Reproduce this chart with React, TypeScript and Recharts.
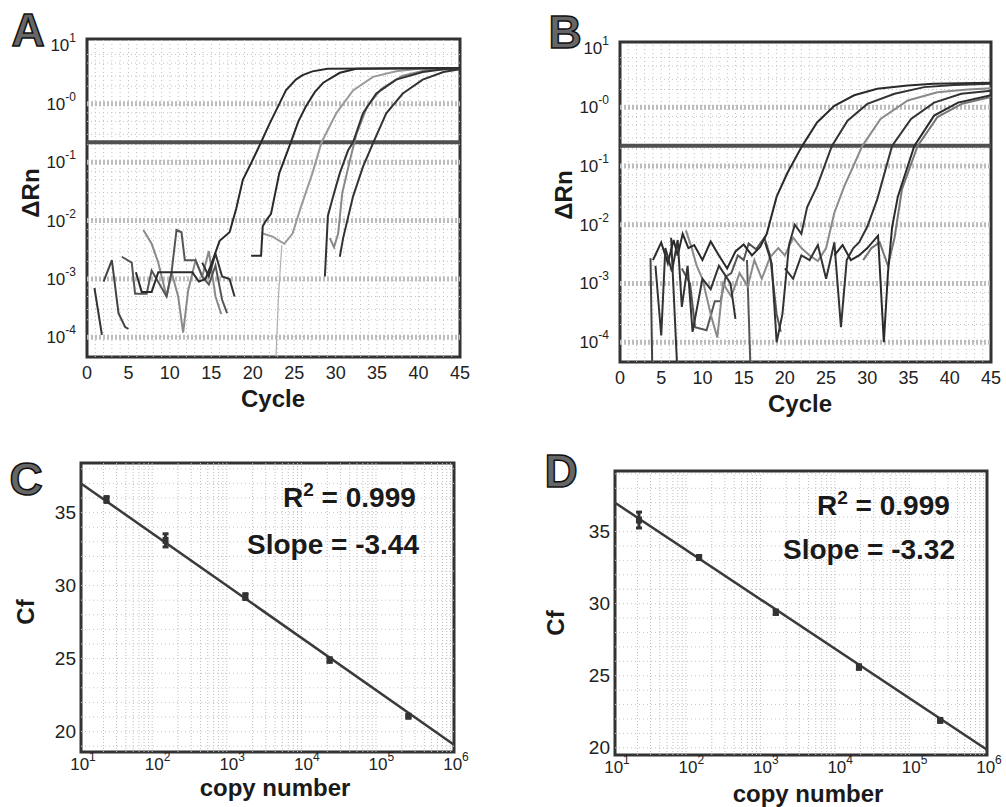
import React from 'react';
import {
  LineChart, Line, XAxis, YAxis, ReferenceLine, ReferenceArea,
  ComposedChart, Scatter, ErrorBar,
} from 'recharts';

type Pt = [number, number | null];

const FONT = '"Liberation Sans", Arial, Helvetica, sans-serif';
const BOTTOM = 4.7e-5; // runs that fall off the bottom of the log axis

// ---- panel A : amplification plot, [cycle, dRn] ----
const A_NOISE1: Pt[] = [[0.9, 7e-4], [1.8, 1.1e-4]];
const A_NOISE2: Pt[] = [[2, 9e-4], [3, 2.1e-3], [3.8, 2.6e-4], [4.6, 1.5e-4], [5, 1.4e-4]];
const A_NOISE3: Pt[] = [[4.2, 2.4e-3], [5.4, 1.9e-3], [5.8, 5.6e-4], [7.2, 5.6e-4], [7.8, 1.4e-3], [9.6, 5e-4], [10.2, 1.3e-3], [10.8, 6.9e-3], [11.4, 6.3e-3], [11.8, 2.1e-3], [13.1, 2.1e-3], [13.9, 1.1e-3], [14.7, 8e-4], [15.5, 1.7e-3], [16.3, 4.4e-4], [16.9, 2.6e-4]];
const A_NOISE4: Pt[] = [[6.8, 6.9e-3], [7.8, 4e-3], [8.6, 1.9e-3], [9.6, 5e-4], [10.2, 1.3e-3], [11, 5e-4], [11.6, 1.2e-4], [12.2, 6.3e-4], [13.1, 2.1e-3], [13.9, 1.1e-3], [14.7, 3e-3], [15.5, 5e-4], [16.2, 2.5e-4]];
const A_NOISE5: Pt[] = [[13.9, 1.9e-3], [14.7, 1.1e-3], [15.5, 2.7e-3], [16.3, 1.1e-3], [17.2, 1e-3], [17.8, 5e-4]];
const A_RUN1: Pt[] = [[5.9, 1.3e-3], [6.6, 6e-4], [7.8, 6e-4], [8.6, 1.3e-3], [12.7, 1.3e-3], [13.5, 9e-4], [14.3, 1e-3], [15, 1.8e-3], [16, 4.5e-3], [17.2, 6.3e-3], [18, 1.6e-2], [18.8, 5e-2], [20, 0.11], [21, 0.22], [22, 0.45], [23.2, 1.0], [24, 1.7], [25.2, 2.6], [26, 3.1], [27.2, 3.6], [29, 4.0], [45, 4.1]];
const A_RUN2: Pt[] = [[19.8, 2.5e-3], [21, 2.5e-3], [21.2, 8e-3], [21.6, 1e-2], [22.2, 1.3e-2], [23.2, 6.5e-2], [24.6, 0.22], [25.5, 0.5], [26.4, 0.9], [27.5, 1.6], [28.5, 2.3], [30.5, 3.4], [32.5, 4.0], [45, 4.1]];
const A_RUN3: Pt[] = [[21.2, 6e-3], [22.4, 5.3e-3], [23.8, 4e-3], [24.8, 6e-3], [25.8, 1.7e-2], [27.2, 6.5e-2], [28.3, 0.22], [30.1, 0.7], [32.1, 1.7], [34.5, 2.9], [37.3, 3.6], [40, 4.0], [45, 4.1]];
const A_RUN3_DROP: Pt[] = [[23.5, 3.8e-3], [23.1, 5e-4], [22.8, BOTTOM]];
const A_RUN4: Pt[] = [[28.7, 1.1e-3], [29.06, 1.2e-2], [29.7, 2.6e-2], [30.5, 6.5e-2], [31.5, 0.16], [32.1, 0.22], [33.3, 0.69], [34.9, 1.5], [37.3, 2.6], [40.5, 3.5], [43, 3.9], [45, 4.0]];
const A_RUN4B: Pt[] = [[29.3, 5e-3], [29.8, 3.5e-3], [30.3, 6e-3], [30.8, 3e-2], [31.8, 0.12], [32.5, 0.3], [33.8, 0.9], [35.5, 1.8], [38, 3.0], [41, 3.8], [45, 4.0]];
const A_RUN5: Pt[] = [[30.5, 2.4e-3], [30.9, 5e-3], [32.1, 2.6e-2], [33.3, 8.4e-2], [34.5, 0.21], [36.1, 0.69], [38.1, 1.5], [40.5, 2.6], [43, 3.5], [45, 3.9]];

// ---- panel B : amplification plot, [cycle, dRn] ----
const B_SPIKE1: Pt[] = [[3.7, 2.7e-3], [3.9, BOTTOM]];
const B_SPIKE2: Pt[] = [[6.2, 6e-3], [6.9, BOTTOM]];
const B_SPIKE3: Pt[] = [[15.4, 2.5e-3], [15.8, BOTTOM]];
const B_RUN1: Pt[] = [[4, 2.5e-3], [5, 5e-3], [5.8, 2.2e-3], [6.5, 5.5e-3], [7, 3e-3], [7.6, 7e-3], [8.3, 4e-3], [9, 4.5e-3], [10, 2.5e-3], [11, 5.2e-3], [12, 3e-3], [13, 1.8e-3], [14, 3.5e-3], [15, 4.6e-3], [16, 3e-3], [17, 4.2e-3], [17.8, 7e-3], [19, 3e-2], [20.3, 7.6e-2], [22.1, 0.22], [23.9, 0.55], [26, 1.06], [28.4, 1.6], [31.2, 2.06], [34.9, 2.35], [38, 2.5], [45, 2.6]];
const B_RUN2: Pt[] = [[4.3, 2e-3], [5, 1.3e-4], [5.5, 4e-3], [6.3, 1.6e-3], [7, 5.5e-3], [7.5, 4e-4], [8.2, 2e-3], [8.8, 1.5e-4], [10, 1.2e-3], [11, 8e-4], [12, 2e-3], [13.4, 1e-3], [14, 2.5e-4], [15, null], [17.6, 5e-3], [18.4, 2.2e-3], [19, 1e-4], [19.7, 3e-4], [20.5, 4.5e-3], [21.2, 1e-2], [22, 7e-3], [22.7, 2e-2], [23.9, 4.5e-2], [25.7, 0.22], [27.6, 0.59], [30, 1.14], [33.3, 1.7], [36.9, 2.2], [40.5, 2.4], [45, 2.5]];
const B_RUN3: Pt[] = [[8, 8e-3], [8.7, 4e-3], [9.3, 2e-3], [10, 1.2e-3], [11, 3e-4], [11.8, 1.2e-4], [12.5, 1e-3], [13.5, 6e-4], [14.5, 1.5e-3], [15.5, 9e-4], [16.3, 2.5e-3], [17.2, 1.2e-3], [18.2, 2.8e-3], [19.2, 4e-3], [20, 3e-3], [21, 6e-3], [22, 4e-3], [23, 3e-3], [24, 2.4e-3], [25, 4e-3], [26, 1.6e-2], [27.2, 4.5e-2], [29.4, 0.22], [31.6, 0.63], [34.9, 1.3], [38.5, 1.8], [42.2, 2.0], [45, 2.1]];
const B_RUN4: Pt[] = [[20, 1.8e-3], [21, 1.2e-3], [22, 3e-3], [23, 2.5e-3], [24, 4.5e-3], [25, 1.2e-3], [26, 5e-3], [26.8, 1.8e-4], [27.5, 2.5e-3], [28.3, 4e-3], [29, 5e-3], [30, 9.3e-3], [31.2, 2.7e-2], [33, 0.22], [35.3, 0.63], [38.1, 1.2], [41.4, 1.7], [45, 1.9]];
const B_RUN5: Pt[] = [[26, 3e-3], [27, 4.5e-3], [28, 2.5e-3], [29, 3e-3], [30, 4e-3], [31.3, 6.5e-3], [32, 1e-4], [32.5, 1.5e-3], [33, 9e-3], [33.7, 3e-2], [35.7, 0.22], [38.1, 0.72], [41, 1.2], [45, 1.6]];
const B_RUN6: Pt[] = [[29.5, 2.5e-3], [30.5, 4e-3], [31.5, 5e-3], [32.5, 2e-3], [33.3, 6e-3], [34.2, 4e-2], [36.1, 0.22], [38.5, 0.68], [41.5, 1.15], [45, 1.5]];
const B_RUN7: Pt[] = [[7.5, 1.8e-3], [8.5, 1e-3], [9.1, 1.8e-4], [10.5, 1.6e-4], [11.5, 5e-4], [12.2, 5e-4], [12.8, 1.3e-3], [13.5, 1.5e-3], [14.3, 3e-3], [15, 2.5e-3], [15.6, 4.8e-3], [16.5, 3.8e-3], [17.5, 6e-3], [18.2, 3e-3], [19, 3e-4], [19.5, 1.5e-4]];

const THRESHOLD = 0.22;

// ---- panels C / D : standard curves ----
const C_COPIES = [22, 136, 1600, 21500, 245000];
const C_CF = [35.9, 33.1, 29.25, 24.9, 21.05];
const C_ERR = [0.2, 0.45, 0.2, 0.15, 0.1];
const C_FIT = [37.0, 19.1]; // Cf at 10 and 10^6

const D_COPIES = [21, 135, 1450, 19000, 235000];
const D_CF = [35.8, 33.2, 29.4, 25.6, 21.9];
const D_ERR = [0.55, 0.1, 0.15, 0.15, 0.1];
const D_FIT = [37.0, 19.86];

// ---- ticks ----
const CYCLE_TICKS = [0, 5, 10, 15, 20, 25, 30, 35, 40, 45];
const DRN_TICKS = [1e-4, 1e-3, 1e-2, 1e-1, 1, 10];
const DRN_EXP = ['-4', '-3', '-2', '-1', '-0', '1'];
const COPY_TICKS = [10, 100, 1000, 10000, 100000, 1000000];
const COPY_EXP = ['1', '2', '3', '4', '5', '6'];
const CF_TICKS = [20, 25, 30, 35];

const DRN_DOMAIN: [number, number] = [4.6e-5, 12.9];

const cycleGrid = Array.from({ length: 44 }, (_, i) => i + 1);
const drnGrid = [1e-4, 1e-3, 1e-2, 1e-1, 1].flatMap((d) => [2, 3, 5, 7].map((m) => m * d));
const copyGrid = [10, 100, 1000, 10000, 100000].flatMap((d) => [2, 3, 4, 5, 6, 7, 8, 9].map((m) => m * d));

const expOf = (v: number, ticks: number[], exps: string[]) => {
  const i = ticks.findIndex((t) => Math.abs(Math.log10(t) - Math.log10(v)) < 1e-6);
  return i >= 0 ? exps[i] : '';
};

const PowYTick = (p: any) => (
  <text x={p.x - 11} y={p.y} textAnchor="end" dominantBaseline="central" fontFamily={FONT} fontSize={17} fill="#222">
    <tspan>10</tspan>
    <tspan fontSize={12} dy={-7}>{expOf(p.payload.value, DRN_TICKS, DRN_EXP)}</tspan>
  </text>
);

const PowXTick = (p: any) => (
  <text x={p.x + 2} y={p.y + 12} textAnchor="middle" dominantBaseline="central" fontFamily={FONT} fontSize={17} fill="#222">
    <tspan>10</tspan>
    <tspan fontSize={12} dy={-7}>{expOf(p.payload.value, COPY_TICKS, COPY_EXP)}</tspan>
  </text>
);

const CycleTick = (p: any) => (
  <text x={p.x} y={p.y + 16} textAnchor="middle" dominantBaseline="central" fontFamily={FONT} fontSize={18} fill="#222">
    {p.payload.value}
  </text>
);

const CfTick = (p: any) => (
  <text x={p.x - 5} y={p.y} textAnchor="end" dominantBaseline="central" fontFamily={FONT} fontSize={19} fill="#222">
    {p.payload.value}
  </text>
);

type Run = { pts: Pt[]; color: string; width?: number };

const A_RUNS: Run[] = [
  { pts: A_NOISE1, color: '#333' },
  { pts: A_NOISE2, color: '#444' },
  { pts: A_NOISE4, color: '#8a8a8a' },
  { pts: A_NOISE3, color: '#555' },
  { pts: A_NOISE5, color: '#333' },
  { pts: A_RUN3, color: '#9a9a9a' },
  { pts: A_RUN3_DROP, color: '#b0b0b0', width: 1.2 },
  { pts: A_RUN4B, color: '#888' },
  { pts: A_RUN1, color: '#2a2a2a' },
  { pts: A_RUN2, color: '#2a2a2a' },
  { pts: A_RUN4, color: '#333' },
  { pts: A_RUN5, color: '#333' },
];

const B_RUNS: Run[] = [
  { pts: B_SPIKE1, color: '#444' },
  { pts: B_SPIKE2, color: '#333' },
  { pts: B_SPIKE3, color: '#555' },
  { pts: B_RUN7, color: '#555' },
  { pts: B_RUN3, color: '#8a8a8a' },
  { pts: B_RUN6, color: '#777' },
  { pts: B_RUN1, color: '#2a2a2a' },
  { pts: B_RUN2, color: '#333' },
  { pts: B_RUN4, color: '#333' },
  { pts: B_RUN5, color: '#2a2a2a' },
];

const toRows = (pts: Pt[]) => pts.map(([c, v]) => ({ c, v }));

const AmpChart = ({ left, top, width, height, margin, runs }: any) => (
  <div style={{ position: 'absolute', left, top }}>
    <LineChart width={width} height={height} margin={margin}>
      <XAxis type="number" dataKey="c" domain={[0, 45]} ticks={CYCLE_TICKS} interval={0} tick={CycleTick}
        axisLine={false} tickLine={false} tickSize={0} tickMargin={0} height={30} allowDataOverflow />
      <YAxis type="number" scale="log" domain={DRN_DOMAIN} ticks={DRN_TICKS} interval={0} tick={PowYTick}
        axisLine={false} tickLine={false} tickSize={0} tickMargin={0} width={60} allowDataOverflow />
      {cycleGrid.map((c) => (
        <ReferenceLine key={'vx' + c} x={c} stroke="#bdbdbd" strokeDasharray="1 3" />
      ))}
      {drnGrid.map((v) => (
        <ReferenceLine key={'hy' + v} y={v} stroke="#c6c6c6" strokeDasharray="1 3" />
      ))}
      {DRN_TICKS.slice(0, 5).map((v) => (
        <ReferenceLine key={'dy' + v} y={v} stroke="#bdbdbd" strokeWidth={5} strokeDasharray="2 2" />
      ))}
      <ReferenceLine y={THRESHOLD} stroke="#505050" strokeWidth={4} />
      {runs.map((r: Run, i: number) => (
        <Line key={i} data={toRows(r.pts)} dataKey="v" type="linear" stroke={r.color}
          strokeWidth={r.width ?? 2} dot={false} isAnimationActive={false} />
      ))}
      <ReferenceArea x1={0} x2={45} y1={DRN_DOMAIN[0]} y2={DRN_DOMAIN[1]} fill="none" stroke="#333" strokeWidth={3} />
    </LineChart>
  </div>
);

const StdChart = ({ left, top, width, height, margin, yDomain, copies, cf, err, fit }: any) => {
  const rows = copies.map((x: number, i: number) => ({ x, y: cf[i], err: err[i] }));
  const cfGrid = Array.from({ length: 21 }, (_, i) => 19 + i).filter((v) => v > yDomain[0] && v < yDomain[1]);
  return (
    <div style={{ position: 'absolute', left, top }}>
      <ComposedChart width={width} height={height} margin={margin}>
        <XAxis type="number" dataKey="x" scale="log" domain={[10, 1e6]} ticks={COPY_TICKS} interval={0} tick={PowXTick}
          axisLine={false} tickLine={false} tickSize={0} tickMargin={0} height={30} allowDataOverflow />
        <YAxis type="number" dataKey="y" domain={yDomain} ticks={CF_TICKS} interval={0} tick={CfTick}
          axisLine={false} tickLine={false} tickSize={0} tickMargin={0} width={50} allowDataOverflow />
        {copyGrid.map((v) => (
          <ReferenceLine key={'vx' + v} x={v} stroke="#bdbdbd" strokeDasharray="1 2" />
        ))}
        {cfGrid.map((v: number) => (
          <ReferenceLine key={'hy' + v} y={v} stroke="#c6c6c6" strokeDasharray="1 3" />
        ))}
        <ReferenceLine segment={[{ x: 10, y: fit[0] }, { x: 1e6, y: fit[1] }]} stroke="#3a3a3a" strokeWidth={2.5} />
        <Scatter data={rows} fill="#333" isAnimationActive={false}
          shape={(p: any) => <rect x={p.cx - 3} y={p.cy - 3.5} width={6} height={7} fill="#333" />}>
          <ErrorBar dataKey="err" direction="y" width={3} stroke="#333" strokeWidth={3} />
        </Scatter>
        <ReferenceArea x1={10} x2={1e6} y1={yDomain[0]} y2={yDomain[1]} fill="none" stroke="#333" strokeWidth={3} />
      </ComposedChart>
    </div>
  );
};

const Letter = ({ x, y, ch }: { x: number; y: number; ch: string }) => (
  <text x={x} y={y} textAnchor="middle" dominantBaseline="central" fontFamily={FONT} fontWeight="bold"
    fontSize={46} fill="#666" stroke="#111" strokeWidth={1.5}>{ch}</text>
);

const Title = ({ x, y, text, rotate }: { x: number; y: number; text: string; rotate?: boolean }) => (
  <text x={x} y={y} textAnchor="middle" dominantBaseline="central" fontFamily={FONT} fontWeight="bold"
    fontSize={24} fill="#1a1a1a" transform={rotate ? `rotate(-90 ${x} ${y})` : undefined}>{text}</text>
);

const FitText = ({ x, y1, y2, r2, slope }: any) => (
  <g fontFamily={FONT} fontWeight="bold" fontSize={28} fill="#1a1a1a">
    <text x={x.r} y={y1} dominantBaseline="central">
      <tspan>R</tspan><tspan fontSize={19} dy={-8}>2</tspan><tspan dy={8}>{` = ${r2}`}</tspan>
    </text>
    <text x={x.s} y={y2} dominantBaseline="central">{`Slope = ${slope}`}</text>
  </g>
);

export default function App() {
  return (
    <div style={{ position: 'absolute', left: 0, top: 0, width: 1006, height: 807, background: '#fff', overflow: 'hidden' }}>
      <AmpChart left={0} top={0} width={480} height={420} margin={{ top: 39, right: 20, bottom: 33, left: 27 }} runs={A_RUNS} />
      <AmpChart left={540} top={0} width={466} height={420} margin={{ top: 42, right: 15, bottom: 28, left: 20 }} runs={B_RUNS} />
      <StdChart left={0} top={440} width={480} height={367} margin={{ top: 23, right: 26, bottom: 25, left: 31 }}
        yDomain={[18.6, 38.4]} copies={C_COPIES} cf={C_CF} err={C_ERR} fit={C_FIT} />
      <StdChart left={540} top={440} width={466} height={367} margin={{ top: 31, right: 19, bottom: 22, left: 25 }}
        yDomain={[19.5, 39.2]} copies={D_COPIES} cf={D_CF} err={D_ERR} fit={D_FIT} />
      <svg width={1006} height={807} style={{ position: 'absolute', left: 0, top: 0, pointerEvents: 'none' }}>
        <Letter x={28} y={30} ch="A" />
        <Letter x={565} y={32} ch="B" />
        <Letter x={26} y={479} ch="C" />
        <Letter x={561} y={471} ch="D" />
        <Title x={30} y={193} text="ΔRn" rotate />
        <Title x={563} y={195} text="ΔRn" rotate />
        <Title x={273} y={398} text="Cycle" />
        <Title x={800} y={403} text="Cycle" />
        <Title x={25} y={612} text="Cf" rotate />
        <Title x={555} y={623} text="Cf" rotate />
        <Title x={275} y={787} text="copy number" />
        <Title x={808} y={793} text="copy number" />
        <FitText x={{ r: 283, s: 247 }} y1={497} y2={544} r2="0.999" slope="-3.44" />
        <FitText x={{ r: 817, s: 783 }} y1={505} y2={549} r2="0.999" slope="-3.32" />
      </svg>
    </div>
  );
}
